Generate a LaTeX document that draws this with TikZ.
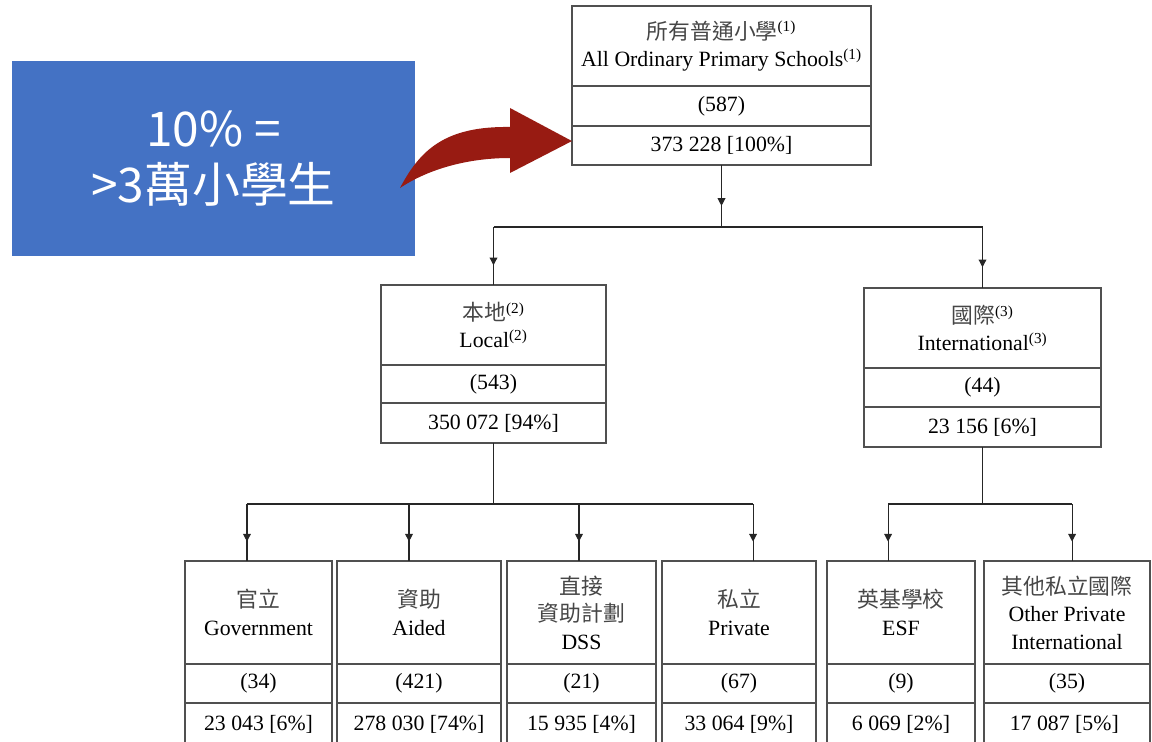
\documentclass[tikz,border=0pt]{standalone}
\usepackage{fontspec}
\setmainfont{Liberation Serif}
\newfontfamily\cjk{Noto Sans CJK TC}
\usetikzlibrary{positioning,arrows.meta,decorations.markings}
\definecolor{notebl}{RGB}{68,114,196}
\definecolor{arrowred}{RGB}{152,27,18}
\definecolor{boxgray}{RGB}{80,80,80}
\definecolor{zhgray}{RGB}{70,70,70}
\newcommand{\zh}[1]{{\cjk\color{zhgray}#1}}
\tikzset{
	cell/.style={draw=boxgray, line width=0.9pt, inner sep=0pt, outer sep=0pt, anchor=north, align=center, font=\fontsize{15.5}{19.5}\selectfont},
	wire/.style={draw=black!85, line width=0.8pt},
	midarrow/.style={postaction={decorate}, decoration={markings, mark=at position 0.66 with {\arrow{Triangle[width=5.5pt,length=5.5pt]}}}},
	note/.style={fill=notebl, text=white, inner sep=0pt, minimum width=10.075cm, minimum height=4.875cm, align=center, font=\cjk\fontsize{34}{40}\selectfont}
}
\begin{document}
\begin{tikzpicture}[x=0.025cm, y=-0.025cm]
\useasboundingbox (0,0) rectangle (1152,742);
\clip (0,0) rectangle (1152,742);

%Oberer Kasten
\node[cell, minimum width=7.475cm, minimum height=2cm] (top-h) at (721.5,6) {\zh{所有普通小學}\textsuperscript{(1)}\\All Ordinary Primary Schools\textsuperscript{(1)}};
\node[cell, minimum width=7.475cm, minimum height=1cm, below=0pt of top-h] (top-c) {(587)};
\node[cell, minimum width=7.475cm, minimum height=0.975cm, below=0pt of top-c] (top-t) {373 228 [100\%]};

%Mittlere Kasten
\node[cell, minimum width=5.625cm, minimum height=2cm] (local-h) at (493.5,285) {\zh{本地}\textsuperscript{(2)}\\Local\textsuperscript{(2)}};
\node[cell, minimum width=5.625cm, minimum height=0.95cm, below=0pt of local-h] (local-c) {(543)};
\node[cell, minimum width=5.625cm, minimum height=1cm, below=0pt of local-c] (local-t) {350 072 [94\%]};

\node[cell, minimum width=5.925cm, minimum height=2cm] (intl-h) at (982.5,288) {\zh{國際}\textsuperscript{(3)}\\International\textsuperscript{(3)}};
\node[cell, minimum width=5.925cm, minimum height=0.975cm, below=0pt of intl-h] (intl-c) {(44)};
\node[cell, minimum width=5.925cm, minimum height=1cm, below=0pt of intl-c] (intl-t) {23 156 [6\%]};

\coordinate (midbar) at (0,227);
\coordinate (lowbar) at (0,504);

%Untere Kasten
\foreach \name/\cx/\w/\off/\txt/\n/\tot in
{
gov/258.5/3.675/-8.2/{\zh{官立}\\Government}/34/{23 043 [6\%]},
aided/419/4.1/-7.1/{\zh{資助}\\Aided}/421/{278 030 [74\%]},
dss/581.5/3.725/-1.8/{\zh{直接}\\\zh{資助計劃}\\DSS}/21/{15 935 [4\%]},
priv/739/3.85/10/{\zh{私立}\\Private}/67/{33 064 [9\%]},
esf/901/3.7/-9.2/{\zh{英基學校}\\ESF}/9/{6 069 [2\%]},
other/1067/4.15/3.6/{\zh{其他私立國際}\\Other Private\\International}/35/{17 087 [5\%]}
}
{
	\node[cell, minimum width=\w cm, minimum height=2.575cm] (\name-h) at (\cx,561) {\txt};
	\node[cell, minimum width=\w cm, minimum height=0.975cm, below=0pt of \name-h] (\name-c) {(\n)};
	\node[cell, minimum width=\w cm, minimum height=1.05cm, below=0pt of \name-c] (\name-t) {\tot};
	\draw[wire, midarrow] ([xshift=\off pt]\name-h.north |- lowbar) -- ([xshift=\off pt]\name-h.north);
}

%Verbindungen
\draw[wire, midarrow] (top-t.south) -- (top-t.south |- midbar);
\draw[wire] (local-h.north |- midbar) -- (intl-h.north |- midbar);
\draw[wire, midarrow] (local-h.north |- midbar) -- (local-h.north);
\draw[wire, midarrow] (intl-h.north |- midbar) -- (intl-h.north);

\draw[wire] (local-t.south) -- (local-t.south |- lowbar);
\draw[wire] ([xshift=-8.2pt]gov-h.north |- lowbar) -- ([xshift=10pt]priv-h.north |- lowbar);
\draw[wire] (intl-t.south) -- (intl-t.south |- lowbar);
\draw[wire] ([xshift=-9.2pt]esf-h.north |- lowbar) -- ([xshift=3.6pt]other-h.north |- lowbar);

%Hinweis
\node[note] (note) at (213.5,158.5) {10\% =\\>3萬小學生};
\fill[arrowred] ([yshift=3.2pt]top-t.west) -- (510,173) -- (510,158) .. controls (470,158) and (430,168) .. (400,188) .. controls (420,150) and (445,126) .. (510,127) -- (510,108) -- cycle;

\end{tikzpicture}
\end{document}
